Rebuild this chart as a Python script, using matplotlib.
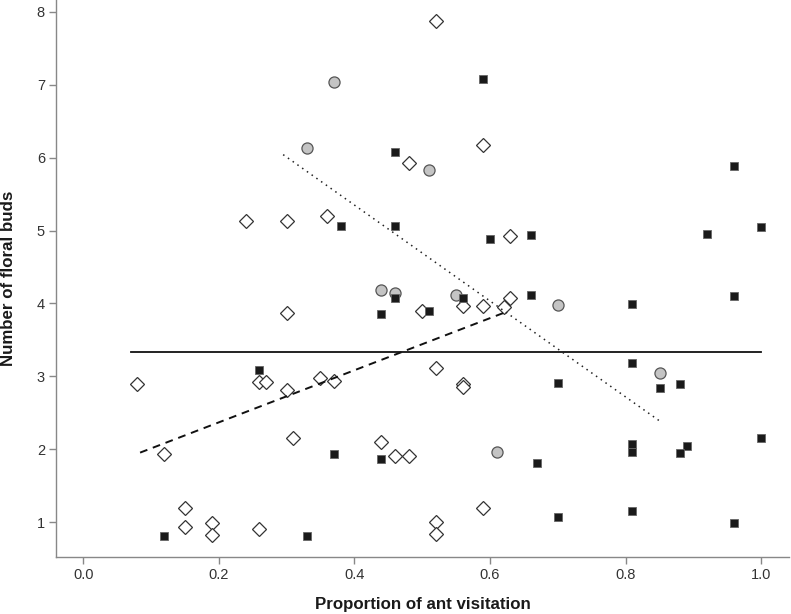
import matplotlib
matplotlib.use('Agg')
import matplotlib.pyplot as plt

plt.rcParams['font.family'] = ['Liberation Sans', 'DejaVu Sans']

# open diamonds
open_x = [0.08, 0.12, 0.15, 0.15, 0.19, 0.19, 0.26, 0.26, 0.27, 0.30, 0.30, 0.31,
          0.24, 0.30, 0.52, 0.59, 0.48, 0.36, 0.63, 0.63, 0.50, 0.56, 0.59, 0.62,
          0.52, 0.35, 0.37, 0.56, 0.56, 0.44, 0.46, 0.48, 0.52, 0.52, 0.59]
open_y = [2.89, 1.94, 1.20, 0.94, 0.99, 0.82, 0.91, 2.92, 2.92, 2.81, 3.87, 2.15,
          5.13, 5.13, 7.87, 6.17, 5.92, 5.20, 4.92, 4.08, 3.90, 3.96, 3.96, 3.95,
          3.12, 2.98, 2.94, 2.89, 2.85, 2.10, 1.91, 1.91, 1.01, 0.84, 1.19]

# black squares
black_x = [0.12, 0.26, 0.59, 0.46, 0.38, 0.46, 0.60, 0.66, 0.46, 0.56, 0.66,
           0.44, 0.51, 0.37, 0.44, 0.67, 0.33, 0.96, 1.00, 0.92, 0.96, 0.81,
           0.81, 0.70, 0.85, 0.88, 0.81, 0.81, 0.89, 0.88, 1.00, 0.70, 0.81, 0.96]
black_y = [0.81, 3.09, 7.08, 6.07, 5.06, 5.06, 4.88, 4.94, 4.07, 4.07, 4.11,
           3.86, 3.89, 1.93, 1.87, 1.81, 0.81, 5.89, 5.05, 4.95, 4.10, 3.99,
           3.18, 2.91, 2.84, 2.90, 2.08, 1.97, 2.04, 1.95, 2.15, 1.07, 1.15, 0.99]

# grey circles
grey_x = [0.37, 0.33, 0.51, 0.44, 0.46, 0.55, 0.61, 0.70, 0.85]
grey_y = [7.03, 6.13, 5.83, 4.18, 4.14, 4.12, 1.97, 3.98, 3.04]

# fitted lines (start, end)
solid_x = [0.07, 1.00]
solid_y = [3.33, 3.33]
dashed_x = [0.084, 0.62]
dashed_y = [1.955, 3.87]
dotted_x = [0.295, 0.85]
dotted_y = [6.04, 2.39]

fig = plt.figure(figsize=(7.91, 6.14), dpi=100)
ax = fig.add_axes([0.0708, 0.0933, 0.9267, 0.9067])

ax.plot(open_x, open_y, linestyle='none', marker='D', markersize=6.8,
        markerfacecolor='white', markeredgecolor='#333333', markeredgewidth=0.9)
ax.plot(grey_x, grey_y, linestyle='none', marker='o', markersize=8.0,
        markerfacecolor='#c4c4c4', markeredgecolor='#555555', markeredgewidth=0.9)
ax.plot(black_x, black_y, linestyle='none', marker='s', markersize=6.4,
        markerfacecolor='#1a1a1a', markeredgecolor='#666666', markeredgewidth=0.6)

ax.plot(solid_x, solid_y, color='#111111', linewidth=1.3)
ax.plot(dashed_x, dashed_y, color='#111111', linewidth=1.4, linestyle=(0, (4, 3)))
ax.plot(dotted_x, dotted_y, color='#222222', linewidth=1.1, linestyle=(0, (1, 2.8)))

ax.set_xlim(-0.040, 1.041)
ax.set_ylim(0.528, 8.16)
ax.set_xticks([0.0, 0.2, 0.4, 0.6, 0.8, 1.0])
ax.set_xticklabels(['0.0', '0.2', '0.4', '0.6', '0.8', '1.0'])
ax.set_yticks([1, 2, 3, 4, 5, 6, 7, 8])

for s in ['top', 'right']:
    ax.spines[s].set_visible(False)
for s in ['left', 'bottom']:
    ax.spines[s].set_color('#888888')
    ax.spines[s].set_linewidth(1.0)
ax.tick_params(colors='#888888', labelcolor='#333333', labelsize=10.5,
               length=5, width=1.0, pad=3)

ax.set_xlabel('Proportion of ant visitation', fontsize=12.2, fontweight='bold',
              color='#1a1a1a', labelpad=11)
ax.set_ylabel('Number of floral buds', fontsize=12.2, fontweight='bold',
              color='#1a1a1a', labelpad=15)

plt.savefig('out.png', dpi=100)
plt.close(fig)
